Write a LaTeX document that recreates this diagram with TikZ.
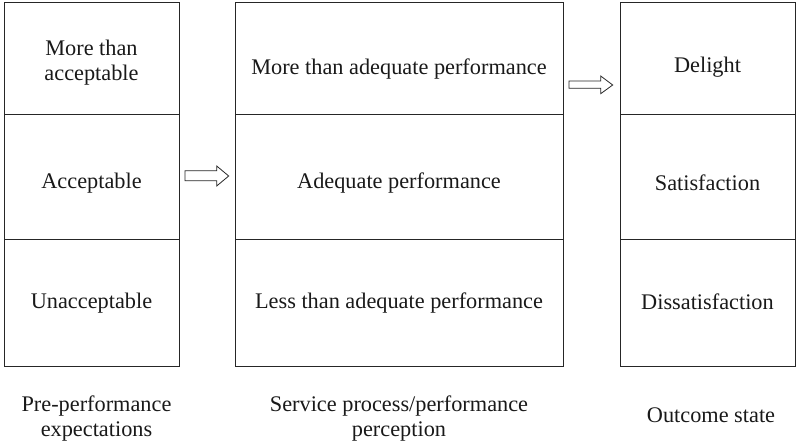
\documentclass[tikz,border=0pt]{standalone}
\usepackage{fontspec}
\setmainfont{Liberation Serif}
\begin{document}
\begin{tikzpicture}[x=1pt,y=-1pt,
  cell/.style={draw=black!85,line width=1pt,rectangle,inner sep=0pt},
  lbl/.style={font=\fontsize{22.3}{25}\selectfont,align=center,inner sep=0pt,text=black!90},
  blockarrow/.style={draw=black!85,line width=0.8pt,fill=white,line join=miter}]
\useasboundingbox (0,0) rectangle (796,441);

% cells: column left edge, right edge; rows 2.7-114.7, 114.7-239.7, 239.7-366
\foreach \c/\xa/\xb in {l/4/179, m/235/563, r/620/795}{
  \node[cell,minimum width=\xb-\xa,minimum height=112] (\c1) at ({(\xa+\xb)/2},58.7) {};
  \node[cell,minimum width=\xb-\xa,minimum height=125] (\c2) at ({(\xa+\xb)/2},177.2) {};
  \node[cell,minimum width=\xb-\xa,minimum height=126.3] (\c3) at ({(\xa+\xb)/2},302.85) {};
}

% cell texts
\node[lbl] (tl1) at ([yshift=-4]l1.center) {More than\\acceptable};
\node[lbl] (tl2) at ([yshift=-6]l2.center) {Acceptable};
\node[lbl] (tl3) at ([yshift=0]l3.center) {Unacceptable};
\node[lbl] (tm1) at ([yshift=-10]m1.center) {More than adequate performance};
\node[lbl] (tm2) at ([yshift=-6]m2.center) {Adequate performance};
\node[lbl] (tm3) at ([yshift=0]m3.center) {Less than adequate performance};
\node[lbl] (tr1) at ([yshift=-8]r1.center) {Delight};
\node[lbl] (tr2) at ([yshift=-6]r2.center) {Satisfaction};
\node[lbl] (tr3) at ([yshift=1.5]r3.center) {Dissatisfaction};

% column captions
\node[lbl] (cl) at (96.5,418.5) {Pre-performance\\expectations};
\node[lbl] (cm) at (399,418.5) {Service process/performance\\perception};
\node[lbl] (cr) at (711,415) {Outcome state};

% hollow block arrows between the columns
\draw[blockarrow] (185,170.7) -- (216.7,170.7) -- (216.7,166) -- (228.7,176)
  -- (216.7,186) -- (216.7,180.7) -- (185,180.7) -- cycle;
\draw[blockarrow] (569,81) -- (600.7,81) -- (600.7,76) -- (612.7,85)
  -- (600.7,93.7) -- (600.7,88.3) -- (569,88.3) -- cycle;
\end{tikzpicture}
\end{document}
